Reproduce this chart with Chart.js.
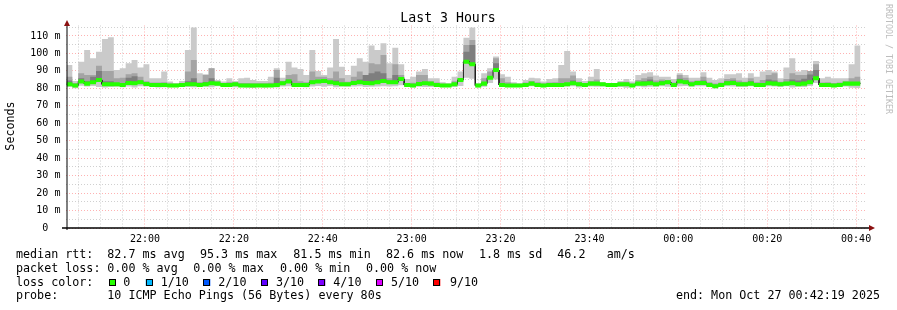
<html>
<body style="margin:0;background:#fff">
<canvas id="myChart" width="897" height="310"></canvas>
<script src="https://cdn.jsdelivr.net/npm/chart.js@4.4.1/dist/chart.umd.min.js"></script>
<script>
// time axis in minutes since 00:00 of Oct 26, start 21:42:19, 80s steps
const startMin = 21 * 60 + 42 + 19 / 60;
const endMin = startMin + 180;
const stepMin = 80 / 60;

const xLabels = ["22:00", "22:20", "22:40", "23:00", "23:20", "23:40", "00:00", "00:20", "00:40"];
const yLabels = ["0  ", "10 m", "20 m", "30 m", "40 m", "50 m", "60 m", "70 m", "80 m", "90 m", "100 m", "110 m"];

// values in ms
const median = [
  82.3, 81.6, 83.9, 82.7, 83.5, 84.8, 82.3, 82.3, 82.3, 81.9,
  83.1, 82.9, 83.5, 82.5, 81.9, 81.9, 81.9, 81.6, 81.6, 81.9,
  82.3, 82.3, 81.9, 82.3, 82.9, 82.7, 81.9, 81.9, 82.3, 81.6,
  81.6, 81.6, 81.6, 81.6, 81.6, 81.9, 82.9, 83.9, 81.9, 81.9,
  81.9, 83.5, 83.9, 84.2, 83.5, 82.9, 82.3, 82.3, 83.1, 83.5,
  83.1, 82.9, 83.5, 84.2, 83.5, 83.5, 85.4, 81.9, 81.6, 82.5,
  82.9, 82.7, 81.9, 81.6, 81.6, 82.3, 84.8, 95.3, 93.8, 81.6,
  82.7, 86.1, 90.5, 81.9, 81.6, 81.6, 81.6, 81.9, 82.7, 81.9,
  81.6, 81.9, 81.9, 81.9, 82.3, 82.9, 82.3, 81.9, 82.7, 82.7,
  82.3, 81.9, 81.9, 82.3, 82.3, 81.6, 82.7, 82.7, 82.9, 82.3,
  82.9, 83.5, 81.9, 83.9, 83.5, 82.3, 83.1, 83.1, 81.9, 81.2,
  81.9, 82.9, 83.1, 82.3, 82.3, 82.7, 81.9, 81.9, 82.9, 82.7,
  82.3, 82.7, 82.9, 82.3, 82.7, 83.5, 85.8, 81.9, 81.9, 81.6,
  81.9, 82.7, 82.7, 82.7
];
const maxRtt = [
  93.4, 84.2, 95.3, 102.0, 97.2, 101.0, 108.3, 109.2, 90.5, 91.5,
  94.4, 96.3, 91.9, 93.8, 85.8, 85.8, 89.6, 83.9, 82.9, 84.2,
  102.0, 114.8, 88.6, 88.1, 91.5, 84.8, 83.9, 85.8, 84.2, 85.8,
  86.1, 84.8, 84.2, 84.2, 86.7, 91.5, 86.1, 95.3, 91.9, 91.1,
  87.7, 102.0, 90.0, 87.7, 91.9, 108.3, 92.4, 87.7, 93.0, 97.2,
  95.3, 104.5, 102.0, 105.8, 94.4, 103.3, 93.8, 85.4, 86.7, 89.6,
  91.1, 85.8, 85.8, 83.5, 82.9, 86.7, 89.6, 109.0, 114.8, 82.9,
  88.6, 91.5, 98.2, 88.1, 86.7, 83.5, 82.9, 84.8, 86.1, 85.8,
  83.9, 85.4, 85.8, 93.4, 101.4, 89.6, 85.8, 84.2, 86.7, 91.1,
  83.5, 82.9, 82.9, 84.2, 85.4, 83.9, 87.7, 88.6, 89.2, 87.3,
  86.7, 86.7, 85.4, 88.6, 87.7, 86.1, 86.1, 89.2, 86.1, 84.8,
  85.8, 88.1, 88.1, 88.6, 86.1, 88.6, 86.7, 89.6, 90.5, 89.6,
  85.8, 91.9, 97.2, 89.6, 90.5, 90.0, 95.7, 85.8, 86.7, 85.8,
  85.8, 85.8, 93.8, 104.5
];
const upper2 = [
  86.7, 83.0, 88.6, 87.7, 87.7, 93.0, 90.0, 90.0, 85.8, 86.1,
  88.1, 88.6, 86.7, 84.0, 83.3, 83.3, 83.5, 82.8, 82.6, 83.0,
  89.6, 96.3, 83.5, 87.7, 91.5, 84.0, 83.0, 83.5, 83.4, 83.0,
  83.0, 82.9, 82.9, 82.9, 83.2, 90.5, 84.2, 87.7, 88.1, 84.0,
  83.5, 89.6, 86.7, 86.7, 85.8, 89.6, 85.8, 83.8, 86.7, 89.6,
  87.7, 94.4, 93.8, 99.1, 85.8, 93.8, 87.7, 83.0, 83.2, 87.7,
  87.7, 84.0, 83.3, 82.6, 82.4, 84.0, 85.8, 104.8, 107.7, 82.4,
  85.8, 89.6, 97.2, 85.8, 83.5, 82.6, 82.2, 83.3, 84.2, 83.5,
  82.8, 83.3, 83.5, 85.8, 85.8, 87.3, 83.8, 83.0, 84.2, 85.0,
  82.9, 82.5, 82.5, 83.3, 83.8, 82.8, 84.8, 85.8, 86.7, 84.5,
  85.0, 84.8, 83.3, 87.7, 86.1, 84.0, 84.5, 86.7, 83.5, 82.8,
  83.3, 85.4, 85.8, 84.5, 83.8, 85.8, 83.5, 84.8, 87.7, 88.6,
  83.8, 85.4, 88.6, 87.7, 87.7, 90.0, 93.8, 83.3, 83.5, 83.0,
  83.3, 84.0, 85.8, 86.7
];
const upper3 = [
  84.5, 81.6, 85.8, 84.0, 86.7, 90.0, 84.0, 84.0, 82.3, 81.9,
  86.0, 87.0, 84.5, 82.5, 81.9, 81.9, 81.9, 81.6, 81.6, 81.9,
  84.0, 85.8, 81.9, 83.5, 85.8, 82.7, 81.9, 81.9, 82.3, 81.6,
  81.6, 81.6, 81.6, 81.6, 81.6, 86.0, 82.9, 85.0, 83.0, 81.9,
  81.9, 84.5, 84.5, 85.0, 84.0, 84.5, 83.0, 82.3, 84.0, 85.0,
  87.7, 88.6, 89.6, 88.6, 84.5, 87.7, 86.5, 81.9, 81.6, 83.5,
  83.5, 82.7, 81.9, 81.6, 81.6, 82.3, 84.8, 101.0, 104.8, 81.6,
  83.5, 87.0, 94.4, 82.5, 81.6, 81.6, 81.6, 81.9, 82.7, 81.9,
  81.6, 81.9, 81.9, 82.5, 83.0, 84.5, 82.3, 81.9, 82.7, 82.7,
  82.3, 81.9, 81.9, 82.3, 82.3, 81.6, 83.5, 84.0, 85.0, 82.8,
  84.0, 84.0, 81.9, 85.5, 84.5, 82.3, 83.5, 84.5, 81.9, 81.2,
  81.9, 84.0, 84.5, 82.8, 82.3, 84.0, 81.9, 82.5, 85.0, 84.5,
  82.3, 83.5, 85.0, 84.5, 85.5, 88.0, 90.5, 81.9, 81.9, 81.6,
  81.9, 82.7, 83.5, 83.5
];
const minRtt = [
  80.8, 80.0, 81.5, 81.0, 81.3, 80.8, 80.5, 80.7, 80.9, 80.6,
  81.0, 80.5, 81.2, 81.0, 80.8, 80.5, 80.6, 80.9, 80.9, 80.7,
  80.8, 80.6, 80.7, 80.9, 80.6, 81.2, 80.9, 80.8, 80.6, 80.7,
  80.5, 80.2, 80.7, 80.5, 80.7, 80.5, 81.0, 81.2, 80.9, 80.8,
  80.6, 81.1, 81.4, 80.9, 81.3, 80.6, 81.0, 80.9, 81.0, 81.2,
  80.7, 80.9, 81.0, 81.2, 81.1, 81.2, 81.8, 80.8, 80.6, 80.9,
  80.8, 80.7, 80.9, 80.7, 80.8, 80.7, 81.3, 86.0, 85.5, 80.5,
  80.9, 83.0, 85.0, 80.8, 80.7, 80.9, 80.8, 80.9, 81.2, 80.8,
  80.7, 80.8, 80.8, 80.9, 81.0, 81.2, 80.5, 80.7, 81.0, 80.9,
  81.0, 80.9, 80.8, 80.7, 80.3, 80.8, 81.1, 80.6, 80.9, 80.9,
  81.2, 80.9, 80.8, 81.2, 81.3, 80.9, 81.2, 81.2, 80.8, 80.0,
  80.8, 81.2, 81.0, 80.7, 80.8, 81.2, 80.7, 80.8, 81.2, 81.1,
  80.8, 81.2, 80.5, 80.9, 80.7, 81.3, 83.0, 80.8, 80.9, 80.8,
  80.7, 81.1, 80.4, 80.2
];

const rttStats = ["82.7 ms avg", "95.3 ms max", "81.5 ms min", "82.6 ms now", "1.8 ms sd", "46.2", "am/s"];
const lossStats = ["0.00 % avg", "0.00 % max", "0.00 % min", "0.00 % now"];
const lossLabels = ["0", "1/10", "2/10", "3/10", "4/10", "5/10", "9/10"];
const lossColors = ["#26ff00", "#00b8ff", "#0059ff", "#5e00ff", "#7e00ff", "#dd00ff", "#ff0000"];
const probeText = "10 ICMP Echo Pings (56 Bytes) every 80s";
const endText = "end: Mon Oct 27 00:42:19 2025";

// each value holds for one 80s step: two points per step, flat top
function steps(arr) {
    const pts = [];
    arr.forEach((v, i) => {
        pts.push({x: startMin + i * stepMin, y: v});
        pts.push({x: startMin + (i + 1) * stepMin, y: v});
    });
    return pts;
}

const mono = "DejaVu Sans Mono";
const band = {pointRadius: 0, borderWidth: 0, borderColor: "transparent", tension: 0};
const majorGrid = "rgba(255,0,0,0.3)";
const minorGrid = "rgba(150,150,150,0.45)";

const textPlugin = {
    id: "smokeText",
    afterDraw(chart) {
        const ctx = chart.ctx;
        const a = chart.chartArea;
        ctx.save();
        // axes
        ctx.strokeStyle = "#000";
        ctx.lineWidth = 1;
        ctx.beginPath();
        ctx.moveTo(67, 230);
        ctx.lineTo(67, 24);
        ctx.stroke();
        ctx.lineWidth = 1.6;
        ctx.beginPath();
        ctx.moveTo(62, a.bottom);
        ctx.lineTo(870, a.bottom);
        ctx.stroke();
        ctx.fillStyle = "#8b1010";
        ctx.beginPath();
        ctx.moveTo(64, 26); ctx.lineTo(70, 26); ctx.lineTo(67, 20); ctx.fill();
        ctx.beginPath();
        ctx.moveTo(869, a.bottom - 3); ctx.lineTo(869, a.bottom + 3); ctx.lineTo(875, a.bottom); ctx.fill();

        ctx.fillStyle = "#000";
        ctx.textBaseline = "middle";
        ctx.textAlign = "center";
        ctx.font = "13.2px '" + mono + "'";
        ctx.fillText("Last 3 Hours", 448, 19);

        ctx.font = "11.7px '" + mono + "'";
        ctx.save();
        ctx.translate(11, 126);
        ctx.rotate(-Math.PI / 2);
        ctx.fillText("Seconds", 0, 0);
        ctx.restore();

        ctx.save();
        ctx.fillStyle = "#bdbdbd";
        ctx.font = "8.3px '" + mono + "'";
        ctx.translate(888, 59);
        ctx.rotate(Math.PI / 2);
        ctx.fillText("RRDTOOL / TOBI OETIKER", 0, 0);
        ctx.restore();

        // legend
        ctx.textAlign = "left";
        const rows = [255, 268.5, 282.5, 296];
        ctx.fillText("median rtt:", 16, rows[0]);
        const rttX = [107.3, 200, 293.3, 386, 479, 557.3, 606.7];
        rttStats.forEach((t, i) => ctx.fillText(t, rttX[i], rows[0]));
        ctx.fillText("packet loss:", 16, rows[1]);
        const lossX = [107.3, 193.3, 280, 366];
        lossStats.forEach((t, i) => ctx.fillText(t, lossX[i], rows[1]));
        ctx.fillText("loss color:", 16, rows[2]);
        const boxX = [109, 145.7, 203.3, 261, 318.3, 376, 433.3];
        const labX = [123.3, 160.7, 218.3, 276, 333.3, 391, 450];
        lossLabels.forEach((t, i) => {
            ctx.fillStyle = lossColors[i];
            ctx.fillRect(boxX[i], 279, 7, 7);
            ctx.strokeStyle = "#000";
            ctx.lineWidth = 1;
            ctx.strokeRect(Math.round(boxX[i]) + 0.5, 279.5, 6, 6);
            ctx.fillStyle = "#000";
            ctx.fillText(t, labX[i], rows[2]);
        });
        ctx.fillText("probe:", 16, rows[3]);
        ctx.fillText(probeText, 107.3, rows[3]);
        ctx.textAlign = "right";
        ctx.fillText(endText, 880, rows[3]);
        ctx.restore();
    }
};

new Chart("myChart", {
    type: "line",
    data: {
        datasets: [
            Object.assign({data: steps(minRtt), fill: false, order: 20}, band),
            Object.assign({data: steps(maxRtt), fill: 0, backgroundColor: "#cacaca", order: 19}, band),
            {data: steps(median), pointRadius: 0, borderWidth: 1, borderColor: "#202020", fill: false, order: 5},
            Object.assign({data: steps(upper2), fill: 2, backgroundColor: "#a4a4a4", order: 18}, band),
            Object.assign({data: steps(upper3), fill: 2, backgroundColor: "#7e7e7e", order: 17}, band),
            Object.assign({data: steps(median.map(v => v - 1.15)), fill: false, order: 4}, band),
            Object.assign({data: steps(median.map(v => v + 1.15)), fill: 5, backgroundColor: "#26ff00", order: 3}, band)
        ]
    },
    options: {
        responsive: false,
        animation: false,
        devicePixelRatio: 1,
        layout: {padding: {left: 0, right: 30.6, top: 25.5, bottom: 0}},
        plugins: {legend: {display: false}, tooltip: {enabled: false}, title: {display: false}},
        scales: {
            x: {
                type: "linear",
                min: startMin,
                max: endMin,
                afterBuildTicks: s => {
                    s.ticks = [];
                    for (let m = 1305; m <= 1480; m += 5) s.ticks.push({value: m});
                },
                afterFit: s => { s.height = 82; },
                grid: {
                    drawTicks: false,
                    color: c => (c.tick && c.tick.value % 20 === 0) ? majorGrid : minorGrid
                },
                border: {display: false, dash: [1, 2]},
                ticks: {
                    autoSkip: false, maxRotation: 0, padding: 5, color: "#000",
                    font: {family: mono, size: 10},
                    callback: v => v % 20 === 0 ? xLabels[(v - 1320) / 20] : ""
                }
            },
            y: {
                min: 0,
                max: 116,
                afterBuildTicks: s => {
                    s.ticks = [];
                    for (let v = 0; v <= 115; v += 5) s.ticks.push({value: v});
                },
                afterFit: s => { s.width = 66.4; },
                grid: {
                    drawTicks: false,
                    color: c => (c.tick && c.tick.value % 10 === 0) ? majorGrid : minorGrid
                },
                border: {display: false, dash: [1, 2]},
                ticks: {
                    autoSkip: false, padding: 6, color: "#000",
                    font: {family: mono, size: 10},
                    callback: v => v % 10 === 0 ? yLabels[v / 10] : ""
                }
            }
        }
    },
    plugins: [textPlugin]
});
</script>
</body>
</html>
